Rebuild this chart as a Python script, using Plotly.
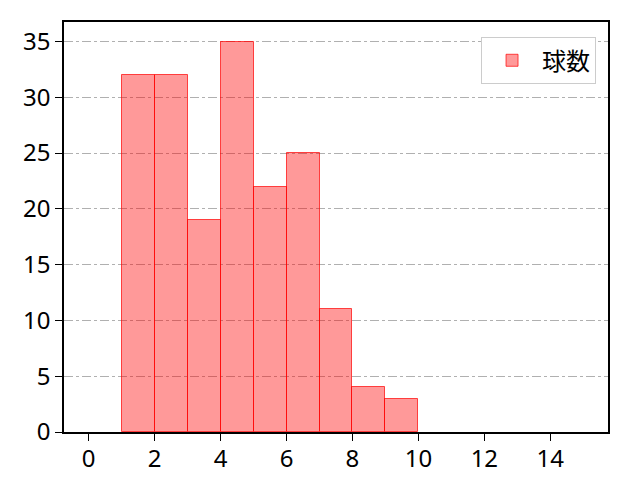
import plotly.graph_objects as go

# histogram bins (left edges, width 1) and counts
bin_left = [1, 2, 3, 4, 5, 6, 7, 8, 9]
counts = [32, 32, 19, 35, 22, 25, 11, 4, 3]
x_ticks = [0, 2, 4, 6, 8, 10, 12, 14]
y_ticks = [0, 5, 10, 15, 20, 25, 30, 35]

FONT = "Noto Sans, Noto Sans CJK JP"

fig = go.Figure()
fig.add_trace(go.Bar(
    x=[b + 0.5 for b in bin_left], y=counts, width=1, name="球数",
    marker=dict(color="rgba(255,0,0,0.4)", line=dict(color="rgba(255,0,0,0.7)", width=1)),
    showlegend=True))

# page renders with ~8px body offset, margins compensate for it
fig.update_layout(
    width=640, height=480, paper_bgcolor="white", plot_bgcolor="white",
    font=dict(family=FONT, size=20, color="black"),
    margin=dict(l=56, r=40, t=14, b=56),
    bargap=0,
    legend=dict(x=0.978, y=0.963, xanchor="right", yanchor="top",
                bgcolor="white", bordercolor="#cccccc", borderwidth=1,
                itemwidth=50, font=dict(size=24)),
)
fig.update_xaxes(range=[-0.75, 15.75], tickvals=x_ticks, showgrid=False,
                 tickfont=dict(size=24), ticklabelstandoff=-3,
                 ticks="outside", ticklen=7, tickcolor="black",
                 showline=True, linecolor="black", linewidth=1.5, mirror=True,
                 zeroline=False)
fig.update_yaxes(range=[0, 36.75], tickvals=y_ticks, showgrid=True,
                 tickfont=dict(size=24),
                 gridcolor="#b0b0b0", griddash="dashdot", gridwidth=1,
                 ticks="outside", ticklen=7, tickcolor="black",
                 showline=True, linecolor="black", linewidth=1.5, mirror=True,
                 zeroline=False)

fig.write_html("out.html")
